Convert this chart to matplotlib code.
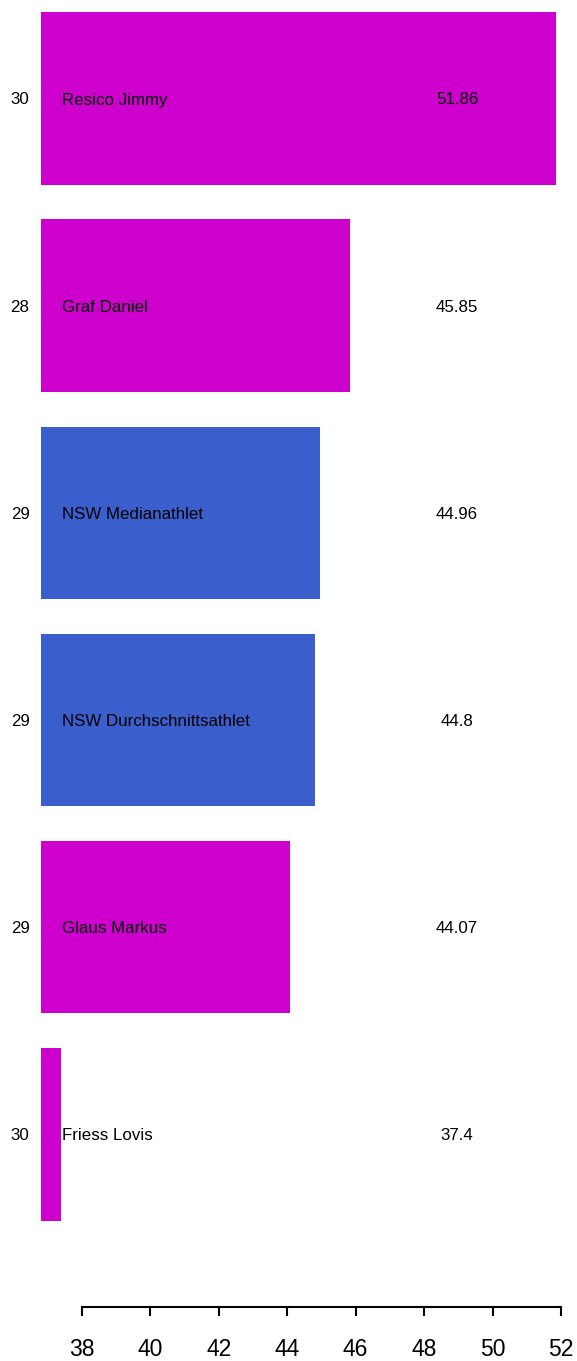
import matplotlib
matplotlib.use("Agg")
import matplotlib.pyplot as plt

names = ["Resico Jimmy", "Graf Daniel", "NSW Medianathlet",
         "NSW Durchschnittsathlet", "Glaus Markus", "Friess Lovis"]
values = [51.86, 45.85, 44.96, 44.8, 44.07, 37.4]
value_labels = ["51.86", "45.85", "44.96", "44.8", "44.07", "37.4"]
counts = [30, 28, 29, 29, 29, 30]
is_reference = [False, False, True, True, False, False]
xticks = [38, 40, 42, 44, 46, 48, 50, 52]

athlete_color = "#CD00CD"
reference_color = "#3A5FCD"

plt.rcParams['font.family'] = ['Liberation Sans', 'DejaVu Sans']

W, H = 577, 1361
fig = plt.figure(figsize=(W / 100, H / 100), dpi=100)
axis_px = 1306.7
ax = fig.add_axes([0, (H - axis_px) / H, 1, axis_px / H])

px_per_unit = 34.24
x38 = 81.7
xmin = 38 - x38 / px_per_unit
xmax = 38 + (W - x38) / px_per_unit
bar_base = 38 - (x38 - 41) / px_per_unit

spacing = 207.16
c0 = 98.5
ytop = -c0 / spacing
ybot = (axis_px - c0) / spacing

ypos = list(range(len(names)))
colors = [reference_color if r else athlete_color for r in is_reference]
ax.barh(ypos, [v - bar_base for v in values], left=bar_base, height=1 / 1.2,
        color=colors, edgecolor='none')

name_x = 38 - (x38 - 61.5) / px_per_unit
count_x = 38 - (x38 - 20) / px_per_unit
val_x = 38 + (457 - x38) / px_per_unit
fs = 12.2
for y, n, c, vl in zip(ypos, names, counts, value_labels):
    ax.text(name_x, y, n, ha='left', va='center_baseline', fontsize=fs, color='black')
    ax.text(count_x, y, str(c), ha='center', va='center_baseline', fontsize=fs, color='black')
    ax.text(val_x, y, vl, ha='center', va='center_baseline', fontsize=fs, color='black')

ax.set_xlim(xmin, xmax)
ax.set_ylim(ybot, ytop)
for s in ['top', 'right', 'left']:
    ax.spines[s].set_visible(False)
ax.spines['bottom'].set_bounds(38, 52)
ax.spines['bottom'].set_linewidth(1.5)
ax.set_yticks([])
ax.set_xticks(xticks)
ax.set_xticklabels([str(t) for t in xticks])
ax.tick_params(axis='x', direction='out', length=6.5, width=1.5, pad=16, labelsize=16.5)
ax.patch.set_visible(False)

fig.savefig("out.png", dpi=100)
